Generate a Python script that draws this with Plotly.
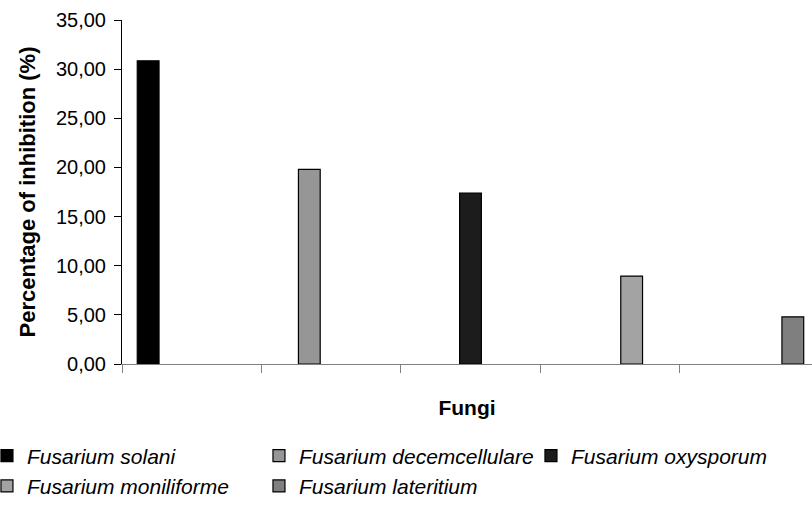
import plotly.graph_objects as go

categories = ["1", "2", "3", "4", "5"]
series_names = [
    "Fusarium solani",
    "Fusarium decemcellulare",
    "Fusarium oxysporum",
    "Fusarium moniliforme",
    "Fusarium lateritium",
]
series_values = [30.85, 19.8, 17.4, 8.95, 4.8]
series_colors = ["#000000", "#969696", "#1c1c1c", "#a3a3a3", "#7f7f7f"]
y_ticks = [0, 5, 10, 15, 20, 25, 30, 35]

fig = go.Figure()
for i, (name, val, col) in enumerate(zip(series_names, series_values, series_colors)):
    yv = [val if j == i else None for j in range(len(categories))]
    fig.add_trace(go.Bar(
        x=categories, y=yv, name=name,
        marker=dict(color=col, line=dict(color="#000000", width=1.2)),
    ))

FONT = "Liberation Sans, Arial, sans-serif"
fig.update_layout(
    width=812, height=509,
    margin=dict(l=122, r=0, t=20, b=145, autoexpand=False),
    paper_bgcolor="white", plot_bgcolor="white",
    barmode="group", bargap=0.219, bargroupgap=0,
    separators=",.",
    font=dict(family=FONT, color="#000000", size=20),
    showlegend=True,
    legend=dict(
        orientation="h", x=-0.1957, xanchor="left", y=-0.2078, yanchor="top",
        entrywidth=227, entrywidthmode="pixels",
        font=dict(family=FONT, size=21, style="italic", color="#000000"),
        bgcolor="rgba(0,0,0,0)", borderwidth=0, itemwidth=30,
    ),
    xaxis=dict(
        type="category", range=[-0.5, 4.45], tickson="boundaries", automargin=False,
        showticklabels=False, ticks="outside", ticklen=8, tickcolor="#808080",
        showline=True, linecolor="#808080", linewidth=1, showgrid=False, zeroline=False,
        title=dict(text="<b>Fungi</b>", font=dict(size=21, family=FONT), standoff=36),
    ),
    yaxis=dict(
        range=[0, 35], tickvals=y_ticks, tickformat=".2f", automargin=False,
        ticks="outside", ticklen=7, tickcolor="#000000",
        showline=True, linecolor="#000000", linewidth=1, showgrid=False, zeroline=False,
        ticklabelstandoff=4,
        tickfont=dict(size=20, family=FONT),
        title=dict(text="<b>Percentage of inhibition (%)</b>", font=dict(size=22, family=FONT), standoff=14),
    ),
)
fig.write_html("out.html")
